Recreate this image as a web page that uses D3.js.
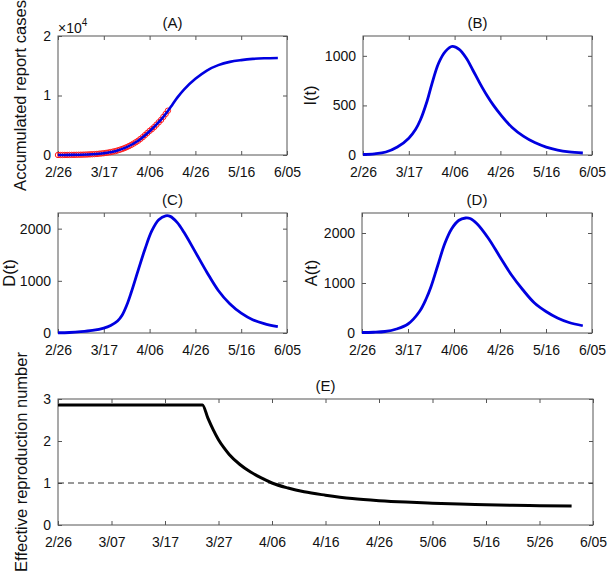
<!DOCTYPE html>
<html>
<head>
<meta charset="utf-8">
<script src="https://cdn.jsdelivr.net/npm/d3@7"></script>
<style>
  html, body { margin: 0; padding: 0; background: #fff; }
  svg { display: block; }
  text { font-family: "Liberation Sans", Arial, Helvetica, sans-serif; fill: #111; }
</style>
</head>
<body>
<svg id="chart" width="608" height="579"></svg>
<script>
// ---------------- DATA (days since 2020-02-26) ----------------
const ticks20Days = [0, 20, 40, 60, 80, 100];
const ticks20Labels = ["2/26", "3/17", "4/06", "4/26", "5/16", "6/05"];
const ticks10Days = [0, 10, 20, 30, 40, 50, 60, 70, 80, 90, 100];
const ticks10Labels = ["2/26", "3/07", "3/17", "3/27", "4/06", "4/16", "4/26", "5/06", "5/16", "5/26", "6/05"];

// (A) accumulated reported cases: observed data
const aObsDays = [0,1,2,3,4,5,6,7,8,9,10,11,12,13,14,15,16,17,18,19,20,21,22,23,24,25,26,27,28,29,30,31,32,33,34,35,36,37,38,39,40,41,42,43,44,45,46,47,48];
const aObsVals = [2,3,5,8,10,15,20,25,30,40,50,60,70,90,110,130,150,180,220,260,300,360,420,490,570,650,760,880,1010,1160,1320,1500,1700,1920,2150,2400,2700,3000,3350,3700,4050,4350,4700,5100,5500,5900,6400,6900,7450];
// (A) model fit
const aFitDays = [0,5,10,15,20,25,30,35,40,45,48,50,52,55,60,65,70,75,80,85,90,96];
const aFitVals = [0,15,50,130,300,650,1320,2400,4000,5950,7400,8500,9600,11000,12800,14200,15100,15650,15950,16150,16250,16300];

// (B) I(t)
const bDays = [0,5,10,15,20,23,25,28,30,33,36,39,42,45,48,51,54,57,60,65,70,75,80,85,90,96];
const bVals = [5,12,30,80,170,260,350,545,710,925,1045,1095,1065,980,855,725,605,500,410,280,190,125,80,50,32,20];

// (C) D(t)
const cDays = [0,5,10,15,20,23,26,28,30,32,35,38,41,44,47,49,52,55,60,65,70,75,80,85,90,96];
const cVals = [5,10,25,50,95,145,230,340,530,780,1200,1610,1960,2170,2245,2235,2120,1930,1550,1165,815,560,380,255,180,120];

// (D) A(t)
const dDays = [0,5,10,15,20,25,28,30,33,36,39,42,45,47,50,55,60,65,70,75,80,85,90,96];
const dVals = [10,15,30,80,180,430,695,925,1360,1790,2085,2250,2300,2290,2185,1890,1520,1160,860,600,430,300,210,145];

// (E) effective reproduction number
const eDays = [0,27,28,29,30,31,32,34,36,38,40,43,46,50,55,60,65,70,75,80,85,90,96];
const eVals = [2.86,2.86,2.55,2.27,2.03,1.84,1.68,1.44,1.26,1.12,1.0,0.88,0.79,0.71,0.63,0.58,0.545,0.52,0.50,0.485,0.47,0.46,0.45];
const eThreshold = 1;

// ---------------- DRAWING ----------------
const svg = d3.select("#chart");
const AX = "#555";
const BLUE = "#0000e0";

function panel(opts) {
  const {left, right, top, bottom, yMax, yTicks, yTickFmt, xTicks, xLabels, title, ylabel, ylabelX} = opts;
  const x = d3.scaleLinear().domain([0, 100]).range([left, right]);
  const y = d3.scaleLinear().domain([0, yMax]).range([bottom, top]);
  const g = svg.append("g");

  g.append("rect").attr("x", left).attr("y", top)
    .attr("width", right - left).attr("height", bottom - top)
    .attr("fill", "none").attr("stroke", AX).attr("stroke-width", 1);

  const styleAxis = (sel) => {
    sel.select(".domain").remove();
    sel.selectAll(".tick line").attr("stroke", AX);
    sel.selectAll(".tick text").style("font-size", "14px").attr("fill", "#111");
  };

  g.append("g").attr("transform", `translate(0,${bottom})`)
    .call(d3.axisBottom(x).tickValues(xTicks).tickFormat((d, i) => xLabels[i])
      .tickSizeInner(-4).tickSizeOuter(0).tickPadding(12))
    .call(styleAxis);
  g.append("g").attr("transform", `translate(0,${top})`)
    .call(d3.axisTop(x).tickValues(xTicks).tickFormat("")
      .tickSizeInner(-4).tickSizeOuter(0))
    .call(styleAxis);
  g.append("g").attr("transform", `translate(${left},0)`)
    .call(d3.axisLeft(y).tickValues(yTicks).tickFormat(yTickFmt)
      .tickSizeInner(-4).tickSizeOuter(0).tickPadding(7))
    .call(styleAxis);
  g.append("g").attr("transform", `translate(${right},0)`)
    .call(d3.axisRight(y).tickValues(yTicks).tickFormat("")
      .tickSizeInner(-4).tickSizeOuter(0))
    .call(styleAxis);

  g.append("text").attr("x", (left + right) / 2).attr("y", top - 8)
    .attr("text-anchor", "middle").style("font-size", "15px").text(title);

  g.append("text")
    .attr("transform", `translate(${ylabelX},${(top + bottom) / 2}) rotate(-90)`)
    .attr("text-anchor", "middle").style("font-size", "16.5px").text(ylabel);

  return {g, x, y};
}

function drawLine(p, days, vals, color, width, curve) {
  const line = d3.line().x((d, i) => p.x(days[i])).y((d, i) => p.y(vals[i])).curve(curve);
  p.g.append("path").datum(vals).attr("d", line)
    .attr("fill", "none").attr("stroke", color).attr("stroke-width", width)
    .attr("stroke-linejoin", "round").attr("stroke-linecap", "butt");
}

const smooth = d3.curveCatmullRom.alpha(0.5);

// (A)
const pA = panel({left: 58, right: 287, top: 36, bottom: 155, yMax: 20000,
  yTicks: [0, 10000, 20000], yTickFmt: d => d / 10000,
  xTicks: ticks20Days, xLabels: ticks20Labels, title: "(A)",
  ylabel: "Accumulated report cases", ylabelX: 26});
pA.g.selectAll("circle.obs").data(aObsVals).enter().append("circle")
  .attr("class", "obs")
  .attr("cx", (d, i) => pA.x(aObsDays[i])).attr("cy", d => pA.y(d))
  .attr("r", 2.7).attr("fill", "none").attr("stroke", "#ff1a1a").attr("stroke-width", 1);
drawLine(pA, aFitDays, aFitVals, BLUE, 2.6, smooth);
const mult = pA.g.append("text").attr("x", 58).attr("y", 33).style("font-size", "14px");
mult.append("tspan").text("\u00d710");
mult.append("tspan").attr("dy", -7).style("font-size", "10px").text("4");

// (B)
const pB = panel({left: 363, right: 592, top: 36, bottom: 155, yMax: 1200,
  yTicks: [0, 500, 1000], yTickFmt: d3.format("d"),
  xTicks: ticks20Days, xLabels: ticks20Labels, title: "(B)",
  ylabel: "I(t)", ylabelX: 316});
drawLine(pB, bDays, bVals, BLUE, 2.8, smooth);

// (C)
const pC = panel({left: 58, right: 287, top: 213, bottom: 333, yMax: 2300,
  yTicks: [0, 1000, 2000], yTickFmt: d3.format("d"),
  xTicks: ticks20Days, xLabels: ticks20Labels, title: "(C)",
  ylabel: "D(t)", ylabelX: 15});
drawLine(pC, cDays, cVals, BLUE, 2.8, smooth);

// (D)
const pD = panel({left: 362, right: 592, top: 213, bottom: 333, yMax: 2400,
  yTicks: [0, 1000, 2000], yTickFmt: d3.format("d"),
  xTicks: ticks20Days, xLabels: ticks20Labels, title: "(D)",
  ylabel: "A(t)", ylabelX: 317});
drawLine(pD, dDays, dVals, BLUE, 2.8, smooth);

// (E)
const pE = panel({left: 58, right: 593, top: 399, bottom: 525, yMax: 3,
  yTicks: [0, 1, 2, 3], yTickFmt: d3.format("d"),
  xTicks: ticks10Days, xLabels: ticks10Labels, title: "(E)",
  ylabel: "Effective reproduction number", ylabelX: 27});
pE.g.append("line")
  .attr("x1", pE.x(0)).attr("x2", pE.x(100))
  .attr("y1", pE.y(eThreshold)).attr("y2", pE.y(eThreshold))
  .attr("stroke", "#333").attr("stroke-width", 1).attr("stroke-dasharray", "6,4");
drawLine(pE, eDays, eVals, "#000", 3, d3.curveMonotoneX);
</script>
</body>
</html>
